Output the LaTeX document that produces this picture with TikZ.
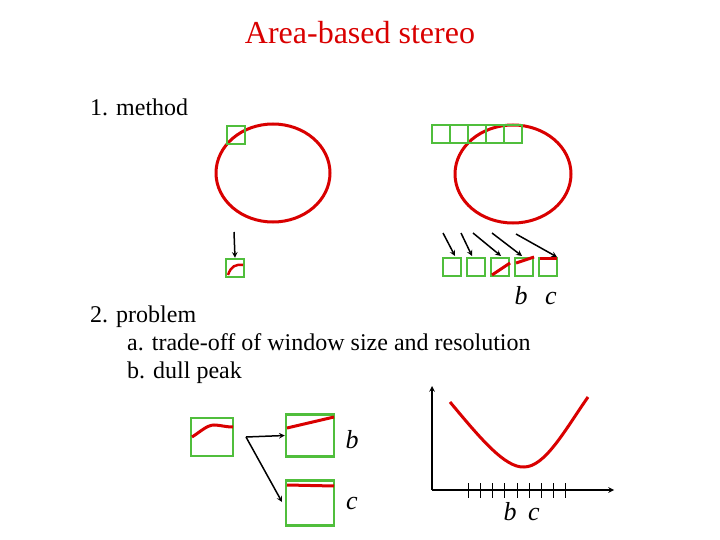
\documentclass[tikz,border=0pt]{standalone}
\usepackage{fontspec}
\setmainfont{Liberation Serif}
\begin{document}
\begin{tikzpicture}[x=1pt,y=-1pt,
  rl/.style={draw=red!85!black, line width=3pt},
  ar/.style={->, >=stealth, line width=1.5pt},
  lbl/.style={font=\fontsize{24}{26}\selectfont, anchor=base west, inner sep=0},
  il/.style={font=\fontsize{26}{28}\selectfont\itshape, anchor=base, inner sep=0}]
\useasboundingbox (0,0) rectangle (720,540);
\definecolor{gr}{RGB}{80,190,60}
\tikzset{gsq/.style={draw=gr, line width=2.5pt}}
\node[text=red!85!black, font=\fontsize{32}{34}\selectfont, anchor=base] (title) at (360,44) {Area-based stereo};
\node[lbl] (m) at (90,116) {1. method};
% left
\draw[rl] (273,173) ellipse (57 and 49);
\draw[gsq] (227,126) rectangle (245,144);
\coordinate (la) at (234,232);
\node[gsq, minimum size=18pt, inner sep=0] (ls) at (235,268) {};
\draw[ar] (la) -- (ls.north);
\draw[rl, line width=2.5pt] (228,275) .. controls (231,266) and (236,264) .. (243,265);
% right
\draw[rl] (513,174) ellipse (58 and 49);
\foreach \i in {0,...,4}{\draw[gsq] (432+18*\i,125) rectangle (450+18*\i,143);}
\foreach \i/\x in {1/452,2/476,3/500,4/524,5/548}{\node[gsq, minimum size=18pt, inner sep=0] (s\i) at (\x,267) {};}
\coordinate (a1) at (443,233);\coordinate (a2) at (461,233);\coordinate (a3) at (473,233);\coordinate (a4) at (492,233);\coordinate (a5) at (516,234);
\draw[ar] (a1) -- (455,256);
\draw[ar] (a2) -- (472,256);
\draw[ar] (a3) -- (501,256);
\draw[ar] (a4) -- (522,256);
\draw[ar] (a5) -- (557,257);
\draw[rl] (492,275) -- (510,263);
\draw[rl] (516,263) -- (534,257);
\draw[rl] (540,258) -- (557,258);
\node[il] (rb) at (521,304) {b};
\node[il] (rc) at (551,304) {c};
% text
\node[lbl] (p) at (90,322) {2. problem};
\node[lbl] (pa) at (127,350) {a. trade-off of window size and resolution};
\node[lbl] (pb) at (127,378) {b. dull peak};
% bottom left
\draw[gsq] (191,418) rectangle (233,456);
\draw[rl] (192,437) .. controls (200,432) and (207,425) .. (214,425) .. controls (220,425) and (225,427) .. (233,427);
\node[gsq, minimum width=48pt, minimum height=42pt, inner sep=0] (sb) at (310,435.5) {};
\node[gsq, minimum width=48pt, minimum height=45pt, inner sep=0] (sc) at (310,503) {};
\draw[rl] (287,428) -- (334,417);
\draw[rl] (287,485) -- (334,486);
\coordinate (o) at (246,437);
\draw[ar] (o) -- (sb.west);
\draw[ar] (o) -- (282,502);
\node[il] (bb) at (352,448) {b};
\node[il] (bc) at (352,509) {c};
% graph
\coordinate (org) at (432,490);
\draw[ar, ->] (org) -- (432,386);
\draw[ar, ->] (org) -- (614,490);
\foreach \x in {468,480,492,504,517,529,541,553,565}{\draw[line width=1pt] (\x,483) -- (\x,498);}
\draw[rl] (450,402) .. controls (480,438) and (505,468) .. (524,467) .. controls (545,467) and (565,430) .. (588,397);
\node[il] (gb) at (510,520) {b};
\node[il] (gc) at (534,520) {c};
\end{tikzpicture}
\end{document}
